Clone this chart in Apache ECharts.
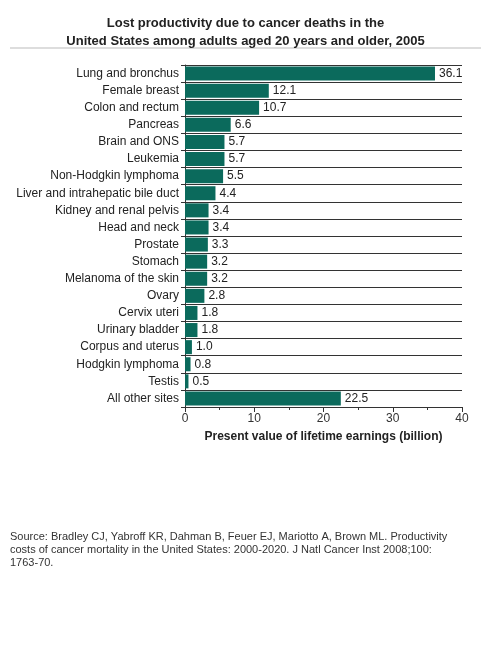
<!DOCTYPE html>
<html><head><meta charset="utf-8">
<script src="https://cdn.jsdelivr.net/npm/echarts@6/dist/echarts.min.js"></script>
<style>body{margin:0;background:#fff}#c{width:491px;height:646px}</style>
</head><body><div id="c"></div>
<script>
const sites = ['Lung and bronchus','Female breast','Colon and rectum','Pancreas','Brain and ONS','Leukemia','Non-Hodgkin lymphoma','Liver and intrahepatic bile duct','Kidney and renal pelvis','Head and neck','Prostate','Stomach','Melanoma of the skin','Ovary','Cervix uteri','Urinary bladder','Corpus and uterus','Hodgkin lymphoma','Testis','All other sites']
const earnings = [36.1,12.1,10.7,6.6,5.7,5.7,5.5,4.4,3.4,3.4,3.3,3.2,3.2,2.8,1.8,1.8,1.0,0.8,0.5,22.5]
const xTicks = [0,10,20,30,40]

const font = 'Liberation Sans, Arial, sans-serif'
const chart = echarts.init(document.getElementById('c'))
chart.setOption({
  animation:false,
  title:{text:'Lost productivity due to cancer deaths in the\nUnited States among adults aged 20 years and older, 2005',
    left:'center',top:9,textStyle:{fontFamily:font,fontSize:13,fontWeight:'bold',color:'#222',lineHeight:18}},
  graphic:[
    {type:'line',shape:{x1:10,y1:48,x2:481,y2:48},style:{stroke:'#bbb',lineWidth:1}},
    {type:'text',left:10,top:530,style:{text:'Source: Bradley CJ, Yabroff KR, Dahman B, Feuer EJ, Mariotto A, Brown ML. Productivity\ncosts of cancer mortality in the United States: 2000-2020. J Natl Cancer Inst 2008;100:\n1763-70.',
      font:'11px '+font,fill:'#333',lineHeight:13}}
  ],
  grid:{left:185,right:29,top:65,bottom:239},
  xAxis:{type:'value',min:xTicks[0],max:xTicks[xTicks.length-1],interval:10,
    axisLine:{show:true,lineStyle:{color:'#333'}},axisTick:{show:true,lineStyle:{color:'#333'}},
    minorTick:{show:true,splitNumber:2,length:3,lineStyle:{color:'#333'}},
    splitLine:{show:false},
    axisLabel:{color:'#333',fontFamily:font,fontSize:12,margin:6},
    name:'Present value of lifetime earnings (billion)',nameLocation:'middle',nameGap:24,
    nameTextStyle:{fontFamily:font,fontSize:12,fontWeight:'bold',color:'#222'}},
  yAxis:{type:'category',data:sites,inverse:true,
    axisLine:{lineStyle:{color:'#333'}},axisTick:{show:true,length:4,lineStyle:{color:'#333'}},
    splitLine:{show:true,lineStyle:{color:'#333',width:1}},
    axisLabel:{color:'#222',fontFamily:font,fontSize:12,margin:6}},
  series:[{type:'bar',data:earnings,barCategoryGap:'18%',
    itemStyle:{color:'#0b6a5c'},
    label:{show:true,position:'right',distance:4,formatter:p=>p.value.toFixed(1),
      color:'#222',fontFamily:font,fontSize:12}}]
})
</script></body></html>
